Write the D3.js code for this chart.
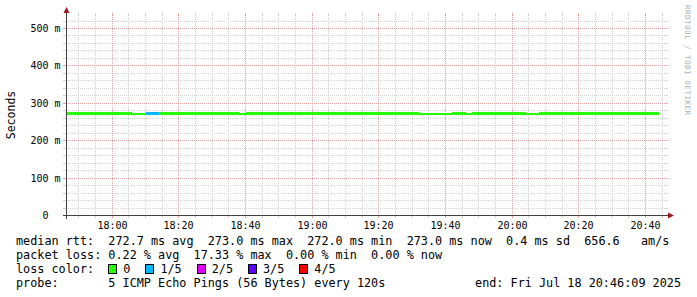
<!DOCTYPE html>
<html>
<head>
<meta charset="utf-8">
<script src="https://cdn.jsdelivr.net/npm/d3@7"></script>
<style>
  body { margin: 0; background: #fff; }
  text { font-family: "DejaVu Sans Mono", monospace; fill: #000; }
</style>
</head>
<body>
<div id="chart"></div>
<script>
const FRAME_WIDTH = 697;
const FRAME_HEIGHT = 297;
const ORIGIN = {x: 66, y: 215};
const PLOT_W = 600;
const PLOT_H = 200;

// time window of the graph (3 hours)
const GRAPH_START = "17:46:09";
const GRAPH_END = "20:46:09";

// y axis (milliseconds)
const Y_MAX_MS = 534.8;
const Y_MAJOR_MS = [0, 100, 200, 300, 400, 500];
const Y_TICK_LABELS = ["0  ", "100 m", "200 m", "300 m", "400 m", "500 m"];
const X_TICK_LABELS = ["18:00", "18:20", "18:40", "19:00", "19:20", "19:40", "20:00", "20:20", "20:40"];

// median rtt runs, each run has one value and one loss count (of 5 pings)
const RUN_START = ["17:46:09", "18:06", "18:10", "18:14", "18:38", "18:40", "19:32", "19:42", "19:46", "19:48", "20:04", "20:08"];
const RUN_END   = ["18:06", "18:10", "18:14", "18:38", "18:40", "19:32", "19:42", "19:46", "19:48", "20:04", "20:08", "20:44"];
const MEDIAN_RTT_MS = [273, 272, 273, 273, 272, 273, 272, 273, 272, 273, 272, 273];
const LOSS_OF_5 = [0, 0, 1, 0, 0, 0, 0, 0, 0, 0, 0, 0];

const LOSS_LABELS = ["0", "1/5", "2/5", "3/5", "4/5"];
const LOSS_COLORS = ["#26ff00", "#00b8ff", "#dd00ff", "#5e00ff", "#ff0000"];

const LEGEND_LINES = [
  "median rtt:  272.7 ms avg  273.0 ms max  272.0 ms min  273.0 ms now  0.4 ms sd  656.6   am/s",
  "packet loss: 0.22 % avg  17.33 % max  0.00 % min  0.00 % now",
  "loss color:",
  "probe:       5 ICMP Echo Pings (56 Bytes) every 120s"
];
const END_LABEL = "end: Fri Jul 18 20:46:09 2025";

const MINOR_COLOR = "#d0d0d0";
const MAJOR_COLOR = "#e8a4a4";
const AXIS_COLOR = "#404040";
const ARROW_COLOR = "#9b1c1c";
const CHAR_W = 7.1;

function t(s) {
  const p = s.split(":").map(Number);
  return new Date(Date.UTC(2025, 6, 18, p[0], p[1], p[2] || 0));
}

const svg = d3.select("#chart").append("svg")
    .attr("width", FRAME_WIDTH)
    .attr("height", FRAME_HEIGHT)
    .style("display", "block");

svg.append("rect").attr("width", FRAME_WIDTH).attr("height", FRAME_HEIGHT).attr("fill", "#fff");

const X = d3.scaleUtc().domain([t(GRAPH_START), t(GRAPH_END)]).range([ORIGIN.x, ORIGIN.x + PLOT_W]);
const Y = d3.scaleLinear().domain([0, Y_MAX_MS]).range([ORIGIN.y, ORIGIN.y - PLOT_H]);

const grid = svg.append("g").attr("shape-rendering", "crispEdges");

// horizontal grid lines (minor every 20 ms, major every 100 ms)
function hline(v, color) {
  const yy = Math.round(Y(v)) + 0.5;
  grid.append("line").attr("x1", ORIGIN.x).attr("x2", ORIGIN.x + PLOT_W).attr("y1", yy).attr("y2", yy)
    .attr("stroke", color).attr("stroke-dasharray", "1,1");
  grid.append("line").attr("x1", ORIGIN.x - 3).attr("x2", ORIGIN.x).attr("y1", yy).attr("y2", yy).attr("stroke", color);
  grid.append("line").attr("x1", ORIGIN.x + PLOT_W).attr("x2", ORIGIN.x + PLOT_W + 2).attr("y1", yy).attr("y2", yy).attr("stroke", color);
}
function vline(d, color) {
  const xx = Math.floor(X(d)) + 0.5;
  grid.append("line").attr("x1", xx).attr("x2", xx).attr("y1", ORIGIN.y - PLOT_H).attr("y2", ORIGIN.y)
    .attr("stroke", color).attr("stroke-dasharray", "1,1");
  grid.append("line").attr("x1", xx).attr("x2", xx).attr("y1", ORIGIN.y - PLOT_H - 2).attr("y2", ORIGIN.y - PLOT_H).attr("stroke", color);
  grid.append("line").attr("x1", xx).attr("x2", xx).attr("y1", ORIGIN.y).attr("y2", ORIGIN.y + 3).attr("stroke", color);
}

d3.range(20, Y_MAX_MS, 20).filter(v => v % 100 !== 0).forEach(v => hline(v, MINOR_COLOR));
const majorTimes = X_TICK_LABELS.map(t);
X.ticks(d3.utcMinute.every(5)).filter(d => d.getUTCMinutes() % 20 !== 0).forEach(d => vline(d, MINOR_COLOR));
Y_MAJOR_MS.forEach(v => hline(v, MAJOR_COLOR));
majorTimes.forEach(d => vline(d, MAJOR_COLOR));

// median rtt line, coloured by loss
const runs = RUN_START.map((s, i) => ({start: t(s), end: t(RUN_END[i]), v: MEDIAN_RTT_MS[i], loss: LOSS_OF_5[i]}));
svg.append("g").attr("shape-rendering", "crispEdges")
  .selectAll("rect").data(runs).enter().append("rect")
    .attr("x", d => Math.max(X(d.start), ORIGIN.x + 1))
    .attr("width", d => X(d.end) - Math.max(X(d.start), ORIGIN.x + 1))
    .attr("y", d => Math.round(Y(d.v) - 0.5))
    .attr("height", d => Math.round(Y(d.v) + 2.1) - Math.round(Y(d.v) - 0.5))
    .attr("fill", d => LOSS_COLORS[d.loss]);

// axes
const ax = svg.append("g").attr("shape-rendering", "crispEdges");
ax.append("line").attr("x1", ORIGIN.x + 0.5).attr("x2", ORIGIN.x + 0.5).attr("y1", ORIGIN.y + 4).attr("y2", ORIGIN.y - PLOT_H - 3)
  .attr("stroke", AXIS_COLOR);
ax.append("line").attr("x1", ORIGIN.x - 3).attr("x2", ORIGIN.x + PLOT_W + 3).attr("y1", ORIGIN.y + 0.5).attr("y2", ORIGIN.y + 0.5)
  .attr("stroke", AXIS_COLOR);
svg.append("path")
  .attr("d", `M${ORIGIN.x - 2.5},${ORIGIN.y - PLOT_H - 2}L${ORIGIN.x + 0.5},${ORIGIN.y - PLOT_H - 8}L${ORIGIN.x + 3.5},${ORIGIN.y - PLOT_H - 2}Z`)
  .attr("fill", ARROW_COLOR);
svg.append("path")
  .attr("d", `M${ORIGIN.x + PLOT_W + 2},${ORIGIN.y - 2.5}L${ORIGIN.x + PLOT_W + 8},${ORIGIN.y + 0.5}L${ORIGIN.x + PLOT_W + 2},${ORIGIN.y + 3.5}Z`)
  .attr("fill", ARROW_COLOR);

// y tick labels
svg.append("g").selectAll("text").data(Y_MAJOR_MS).enter().append("text")
    .attr("x", ORIGIN.x - 5.5)
    .attr("y", d => Math.round(Y(d)) + 0.5)
    .attr("dy", "0.36em")
    .attr("text-anchor", "end")
    .style("white-space", "pre")
    .attr("font-size", "10px")
    .text((d, i) => Y_TICK_LABELS[i]);

// x tick labels
svg.append("g").selectAll("text").data(majorTimes).enter().append("text")
    .attr("x", d => Math.floor(X(d)) + 0.5)
    .attr("y", ORIGIN.y + 14)
    .attr("text-anchor", "middle")
    .attr("font-size", "10px")
    .text((d, i) => X_TICK_LABELS[i]);

// y title
svg.append("text")
    .attr("transform", "translate(11," + (ORIGIN.y - PLOT_H / 2) + ") rotate(-90)")
    .attr("text-anchor", "middle")
    .attr("dy", "0.36em")
    .attr("font-size", "11.5px")
    .text("Seconds");

// watermark
svg.append("text")
    .attr("transform", "translate(685,5) rotate(90)")
    .attr("font-size", "7.5px")
    .attr("textLength", 110)
    .attr("lengthAdjust", "spacing")
    .style("fill", "#b0b0b0")
    .text("RRDTOOL / TOBI OETIKER");

// legend
const legend = svg.append("g").attr("font-size", "11.8px");
LEGEND_LINES.forEach((line, i) => {
  legend.append("text")
      .attr("x", 16)
      .attr("y", 245 + i * 14)
      .style("white-space", "pre")
      .text(line);
});
legend.append("text")
    .attr("x", 681)
    .attr("y", 245 + 3 * 14)
    .attr("text-anchor", "end")
    .text(END_LABEL);

let cursor = 16 + 13 * CHAR_W;
LOSS_LABELS.forEach((lab, i) => {
  legend.append("rect")
      .attr("x", cursor + 0.5).attr("y", 264.5)
      .attr("width", 8).attr("height", 9)
      .attr("fill", LOSS_COLORS[i])
      .attr("stroke", "#000")
      .attr("shape-rendering", "crispEdges");
  legend.append("text")
      .attr("x", cursor + 15)
      .attr("y", 245 + 2 * 14)
      .text(lab);
  cursor = cursor + 15 + lab.length * CHAR_W + 15;
});
</script>
</body>
</html>
